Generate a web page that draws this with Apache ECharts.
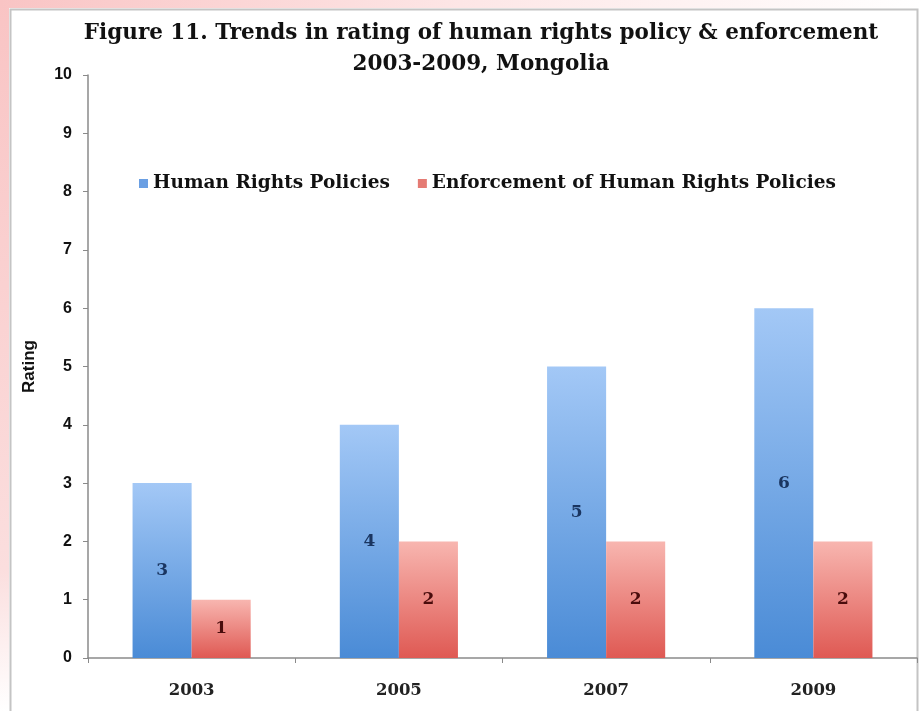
<!DOCTYPE html>
<html><head><meta charset="utf-8">
<script src="https://cdn.jsdelivr.net/npm/echarts@6/dist/echarts.min.js"></script>
<style>html,body{margin:0;padding:0;background:#fff}#c{width:921px;height:711px}</style>
</head><body><div id="c"></div>
<script>
const titleLines = ['Figure 11. Trends in rating of human rights policy & enforcement', '2003-2009, Mongolia'];
const categories = ['2003', '2005', '2007', '2009'];
const policies = [3, 4, 5, 6];
const enforcement = [1, 2, 2, 2];
const seriesNames = ['Human Rights Policies', 'Enforcement of Human Rights Policies'];
const yAxisName = 'Rating';

const chart = echarts.init(document.getElementById('c'), null, {renderer: 'canvas'});
const serif = '"DejaVu Serif", serif';
const sans = '"Liberation Sans", sans-serif';
const grad = (top, bottom) => new echarts.graphic.LinearGradient(0, 0, 0, 1, [{offset: 0, color: top}, {offset: 1, color: bottom}]);

chart.setOption({
  backgroundColor: '#fff',
  animation: false,
  graphic: [
    {type: 'rect', shape: {x: 0, y: 0, width: 9, height: 711}, silent: true,
     style: {fill: new echarts.graphic.LinearGradient(0, 0, 0, 1, [{offset: 0, color: '#f9c4c4'}, {offset: 0.8, color: '#fbdede'}, {offset: 1, color: '#ffffff'}])}},
    {type: 'rect', shape: {x: 0, y: 0, width: 921, height: 8}, silent: true,
     style: {fill: new echarts.graphic.LinearGradient(0, 0, 1, 0, [{offset: 0, color: '#f9c4c4'}, {offset: 0.5, color: '#fde6e6'}, {offset: 1, color: '#ffffff'}])}},
    {type: 'polyline', shape: {points: [[10.5, 711], [10.5, 9.5], [917.5, 9.5], [917.5, 711]]}, silent: true,
     style: {stroke: '#c4c4c4', lineWidth: 2, fill: null}},
    {type: 'text', x: 481, y: 18, silent: true,
     style: {text: titleLines.join('\n'), font: 'bold 21.5px ' + serif, fill: '#111', textAlign: 'center', lineHeight: 31}}
  ],
  legend: {
    top: 169, left: 134,
    itemWidth: 9, itemHeight: 9, itemGap: 28,
    icon: 'rect',
    textStyle: {fontFamily: serif, fontWeight: 'bold', fontSize: 18.5, color: '#111'},
    data: [
      {name: seriesNames[0], itemStyle: {color: '#6a9fe3'}},
      {name: seriesNames[1], itemStyle: {color: '#e57b74'}}
    ]
  },
  grid: {left: 88, right: 4, top: 75, bottom: 53, containLabel: false},
  xAxis: {
    type: 'category', data: categories,
    axisLine: {lineStyle: {color: '#8a8a8a', width: 1.5}},
    axisTick: {show: true, length: 5, lineStyle: {color: '#8a8a8a'}},
    axisLabel: {fontFamily: serif, fontWeight: 'bold', fontSize: 16.5, color: '#222', margin: 24}
  },
  yAxis: {
    type: 'value', min: 0, max: 10, interval: 1,
    name: yAxisName, nameLocation: 'middle', nameGap: 50, nameRotate: 90,
    nameTextStyle: {fontFamily: sans, fontWeight: 'bold', fontSize: 17, color: '#111'},
    axisLine: {show: true, lineStyle: {color: '#8a8a8a', width: 1.5}},
    axisTick: {show: true, length: 5, lineStyle: {color: '#8a8a8a'}},
    splitLine: {show: false},
    axisLabel: {fontFamily: sans, fontWeight: 'bold', fontSize: 16, color: '#111', margin: 16}
  },
  series: [
    {name: seriesNames[0], type: 'bar', data: policies, barGap: '0%', barCategoryGap: '43%',
     itemStyle: {color: grad('#a3c8f6', '#4a8bd6')},
     label: {show: true, position: 'inside', fontFamily: serif, fontWeight: 'bold', fontSize: 17, color: '#1a3560'}},
    {name: seriesNames[1], type: 'bar', data: enforcement, barGap: '0%', barCategoryGap: '43%',
     itemStyle: {color: grad('#f8b6b0', '#df5953')},
     label: {show: true, position: 'inside', fontFamily: serif, fontWeight: 'bold', fontSize: 17, color: '#4a0c0c'}}
  ]
});
</script></body></html>
